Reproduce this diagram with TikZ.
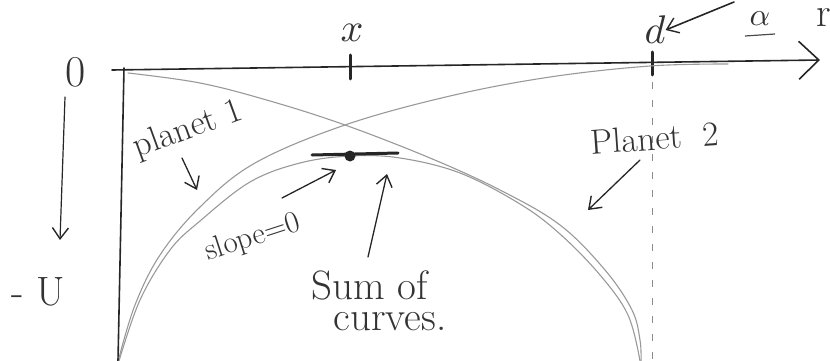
\documentclass[tikz,border=0pt]{standalone}
\usepackage{graphicx}
\usetikzlibrary{arrows.meta}
\begin{document}
\begin{tikzpicture}[x=1pt,y=-1pt,
  ink/.style={draw=black!85,line width=1.6pt,line cap=round},
  pencil/.style={draw=black!40,line width=1.1pt,line cap=round},
  lbl/.style={text=black!80,inner sep=0pt},
  tip/.style={-{Straight Barb[length=11pt,width=16pt,line width=1.4pt]}},
  big/.style={font=\fontsize{41}{43}\selectfont},
  mid/.style={font=\fontsize{35}{37}\selectfont}]
\useasboundingbox (0,0) rectangle (830,361);
% axes
\coordinate (o) at (112,70);
\coordinate (xend) at (820,60);
\coordinate (ytop) at (124,68);
\coordinate (ybot) at (118,361);
\draw[ink,-{Straight Barb[length=20pt,width=38pt,line width=1.6pt]}] (o) -- (xend);
\draw[ink] (ytop) -- (ybot);
% ticks
\coordinate (xt1) at (350,55); \coordinate (xt2) at (350,79);
\coordinate (dt1) at (652,52); \coordinate (dt2) at (652,75);
\draw[ink,line width=3pt] (xt1) -- (xt2);
\draw[ink,line width=3pt] (dt1) -- (dt2);
\coordinate (dd1) at (652,82); \coordinate (dd2) at (652,361);
\draw[draw=black!45,line width=1pt,dash pattern=on 7pt off 11pt] (dd1) -- (dd2);
% labels on axes
\node[lbl] (xl) at (352,33) {\scalebox{4}{$x$}};
\node[lbl] (dl) at (655,30) {\scalebox{4}{$d$}};
\node[lbl] (al) at (760,19) {\scalebox{3.2}{$\alpha$}};
\coordinate (ul1) at (745,36); \coordinate (ul2) at (775,34);
\draw[draw=black!70,line width=1.2pt] (ul1) -- (ul2);
\node[lbl,big] (rl) at (824,18) {r};
\coordinate (aa) at (734,2);
\draw[ink,tip] (aa) -- (dl.east);
\node[lbl,font=\fontsize{44}{46}\selectfont] (zero) at (76,72) {0};
\node[lbl,big] (mu) at (38,292) {- U};
\coordinate (ua) at (65,97); \coordinate (ub) at (60,240);
\draw[ink,line width=1.2pt,tip] (ua) -- (ub);
% curves
\draw[pencil] plot[smooth,tension=0.6] coordinates {(119,358) (135,305) (160,255) (200,207) (255,163) (345,125) (450,96) (550,77) (650,66) (728,64)};
\draw[pencil] plot[smooth,tension=0.6] coordinates {(128,73) (200,83) (270,101) (345,125) (430,158) (500,190) (560,225) (605,270) (632,310) (640,340) (641,361)};
\draw[pencil] plot[smooth,tension=0.6] coordinates {(119,361) (140,300) (170,250) (200,221) (250,182) (300,163) (350,156) (400,158) (460,173) (520,204) (560,234) (600,275) (628,315) (640,361)};
% tangent and point
\coordinate (t1) at (312,155); \coordinate (t2) at (398,153);
\draw[ink,line width=3pt] (t1) -- (t2);
\node[circle,fill=black!85,inner sep=0pt,minimum size=11pt] (pt) at (350,156) {};
% annotations
\node[lbl,mid,rotate=20] (p1) at (188,130) {planet 1};
\coordinate (p1a) at (182,158); \coordinate (p1b) at (197,190);
\draw[ink,line width=1.3pt,tip] (p1a) -- (p1b);
\node[lbl,mid,rotate=4] (p2) at (655,138) {Planet\ \ 2};
\coordinate (p2a) at (640,160); \coordinate (p2b) at (588,210);
\draw[ink,line width=1.3pt,tip] (p2a) -- (p2b);
\node[lbl,font=\fontsize{31}{33}\selectfont,rotate=18] (sl) at (253,238) {slope=0};
\coordinate (sla) at (282,198); \coordinate (slb) at (336,170);
\draw[ink,line width=1.3pt,tip] (sla) -- (slb);
\node[lbl,big] (s1) at (370,285) {Sum of};
\node[lbl,big] (s2) at (390,322) {curves.};
\coordinate (sa) at (368,257); \coordinate (sb) at (387,174);
\draw[ink,line width=1.3pt,tip] (sa) -- (sb);
\end{tikzpicture}
\end{document}
